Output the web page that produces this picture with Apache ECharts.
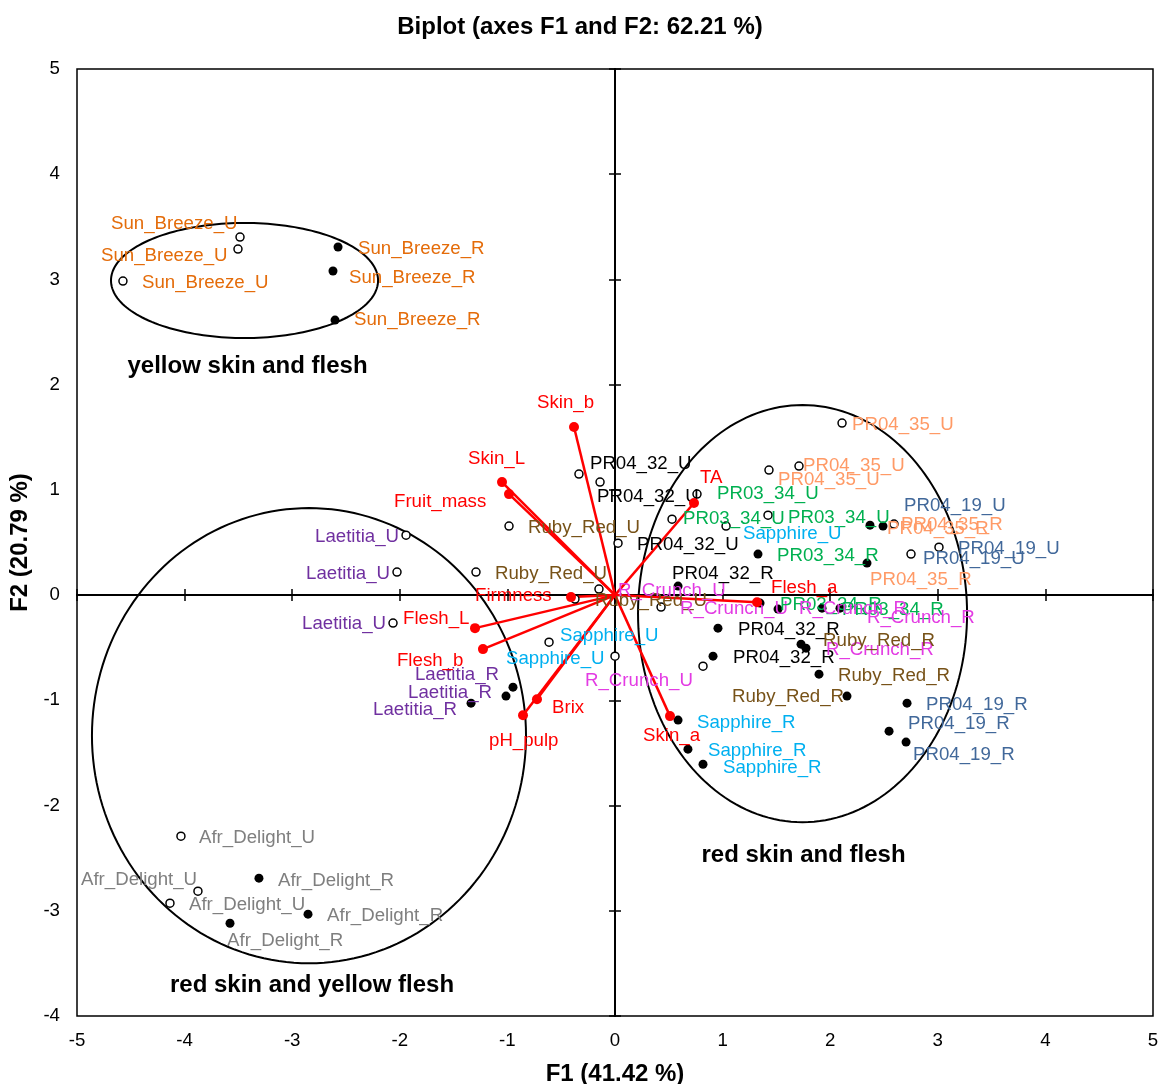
<!DOCTYPE html>
<html><head><meta charset="utf-8">
<script src="https://cdn.jsdelivr.net/npm/echarts@6/dist/echarts.min.js"></script>
<style>html,body{margin:0;padding:0;background:#fff}#chart{width:1160px;height:1084px}</style>
</head><body><div id="chart"></div>
<script>
// ---------------- DATA ----------------
const obsNames = [
  'Sun_Breeze_U','Sun_Breeze_U','Sun_Breeze_U','Sun_Breeze_R','Sun_Breeze_R','Sun_Breeze_R',
  'Laetitia_U','Laetitia_U','Laetitia_U','Laetitia_R','Laetitia_R','Laetitia_R',
  'Afr_Delight_U','Afr_Delight_U','Afr_Delight_U','Afr_Delight_R','Afr_Delight_R','Afr_Delight_R',
  'PR04_32_U','PR04_32_U','PR04_32_U','PR04_32_R','PR04_32_R','PR04_32_R',
  'PR04_35_U','PR04_35_U','PR04_35_U','PR04_35_R','PR04_35_R','PR04_35_R',
  'PR03_34_U','PR03_34_U','PR03_34_U','PR03_34_R','PR03_34_R','PR03_34_R',
  'R_Crunch_R','R_Crunch_R','R_Crunch_R','Ruby_Red_R','Ruby_Red_R','Ruby_Red_R',
  'PR04_19_U','PR04_19_U','PR04_19_U','PR04_19_R','PR04_19_R','PR04_19_R',
  'Ruby_Red_U','Ruby_Red_U','Ruby_Red_U','R_Crunch_U','R_Crunch_U','R_Crunch_U',
  'Sapphire_U','Sapphire_U','Sapphire_U','Sapphire_R','Sapphire_R','Sapphire_R'
];
const obsF1 = [
  -3.485,-3.504,-4.573,-2.574,-2.621,-2.602,
  -1.942,-2.026,-2.063,-0.948,-1.013,-1.338,
  -4.034,-3.876,-4.136,-3.309,-2.853,-3.578,
  -0.335,-0.139,0.028,0.586,0.957,0.911,
  2.110,1.710,1.431,2.370,2.491,2.342,
  0.762,0.530,1.422,1.329,1.348,1.924,
  1.515,1.775,2.091,1.729,1.896,2.156,
  2.593,3.011,2.751,2.714,2.547,2.705,
  -0.985,-1.292,-0.372,-0.149,0.428,0.818,
  -0.613,0.000,1.032,0.586,0.678,0.818
];
const obsF2 = [
  3.403,3.289,2.985,3.308,3.080,2.614,
  0.570,0.219,-0.266,-0.875,-0.960,-1.027,
  -2.291,-2.814,-2.928,-2.690,-3.032,-3.118,
  1.150,1.074,0.494,0.086,-0.314,-0.580,
  1.635,1.226,1.188,0.665,0.656,0.304,
  0.960,0.722,0.760,0.390,-0.076,-0.124,
  -0.133,-0.504,-0.124,-0.466,-0.751,-0.960,
  0.675,0.456,0.390,-1.027,-1.293,-1.397,
  0.656,0.219,-0.038,0.057,-0.114,-0.675,
  -0.447,-0.580,0.656,-1.188,-1.464,-1.607
];
const varNames = ['Skin_b','Skin_L','Fruit_mass','Firmness','Flesh_L','Flesh_b','Brix','pH_pulp','TA','Flesh_a','Skin_a'];
const varF1 = [-0.381,-1.050,-0.985,-0.409,-1.301,-1.227,-0.725,-0.855,0.734,1.320,0.511];
const varF2 = [1.597,1.074,0.960,-0.019,-0.314,-0.513,-0.989,-1.141,0.875,-0.067,-1.150];
const groupLabels = ['yellow skin and flesh','red skin and flesh','red skin and yellow flesh'];
const groupF1 = [-3.415, 1.752, -2.816];
const groupF2 = [2.177, -2.471, -3.707];
const ellipseCx = [-3.443, 1.743, -2.844];
const ellipseCy = [2.990, -0.176, -1.336];
const ellipseRx = [1.241, 1.529, 2.017];
const ellipseRy = [0.547, 1.982, 2.163];
const f1Range = [-5, 5];
const f2Range = [-4, 5];
const titleText = 'Biplot (axes F1 and F2: 62.21 %)';
const f1Name = 'F1 (41.42 %)';
const f2Name = 'F2 (20.79 %)';

// ---------------- LAYOUT / STYLE ----------------
const obsLabelOffsets = [
  [-129,-14],[-137,6],[19,1],[20,1],[16,6],[19,-1],
  [-91,1],[-91,1],[-91,0],[-98,-13],[-98,-4],[-98,6],
  [18,1],[-117,-12],[19,1],[19,2],[19,1],[-3,17],
  [11,-11],[-3,14],[19,1],[-6,-13],[20,1],[20,1],
  [10,1],[4,-1],[9,9],[17,3],[18,-2],[3,16],
  [20,-1],[11,-1],[20,2],[19,1],[20,1],[20,1],
  [21,-1],[20,1],[27,9],[22,-4],[19,1],[-115,0],
  [10,-19],[19,1],[12,4],[19,1],[19,-8],[7,12],
  [19,1],[19,1],[20,1],[19,1],[19,1],[-118,14],
  [11,-7],[-109,2],[17,7],[19,2],[20,1],[20,3]
];
const varLabelOffsets = [[-37,-25],[-34,-24],[-115,7],[-96,-2],[-72,-10],[-86,11],[15,8],[-34,25],[6,-26],[14,-15],[-27,19]];
const labelNudgeY = 1;
const varietyColors = {
  'Sun_Breeze':'#E46C0A','Laetitia':'#7030A0','Afr_Delight':'#7F7F7F','PR04_32':'#000000',
  'PR04_35':'#FF9A66','PR03_34':'#00B050','PR04_19':'#41689A','Ruby_Red':'#775218',
  'R_Crunch':'#E33BE3','Sapphire':'#00B0F0'
};
const FONT = '"Liberation Sans", Arial, Helvetica, sans-serif';
const FS = 18.67;

function colorFor(n){ return varietyColors[n.replace(/_[UR]$/,'')] || '#000'; }
function nudge(o){ return [o[0], o[1] + labelNudgeY]; }
function obsItems(suffix){
  const out = [];
  obsNames.forEach((n,i)=>{
    if (n.endsWith(suffix)) out.push({name:n, value:[obsF1[i], obsF2[i]], label:{offset:nudge(obsLabelOffsets[i]), color:colorFor(n)}});
  });
  return out;
}
const baseLabel = {show:true, formatter:'{b}', position:'inside', align:'left', verticalAlign:'middle',
  fontSize:FS, fontFamily:FONT, textBorderWidth:0, textShadowBlur:0};

const chart = echarts.init(document.getElementById('chart'), null, {renderer:'canvas'});
const axisCommonX = {type:'value', min:f1Range[0], max:f1Range[1], interval:1, splitLine:{show:false}};
const axisCommonY = {type:'value', min:f2Range[0], max:f2Range[1], interval:1, splitLine:{show:false}};
const option = {
  animation:false,
  backgroundColor:'#fff',
  title:{text:titleText, left:'center', top:10, textStyle:{fontSize:24, fontWeight:'bold', fontFamily:FONT, color:'#000'}},
  grid:{left:77, right:7, top:69, bottom:68, containLabel:false, outerBoundsMode:'none',
    show:true, borderColor:'#000', borderWidth:1.5, backgroundColor:'transparent'},
  xAxis:[
    Object.assign({}, axisCommonX, {position:'bottom', axisLine:{show:false, onZero:false}, axisTick:{show:false},
      axisLabel:{fontSize:FS, fontFamily:FONT, color:'#000', margin:15},
      name:f1Name, nameLocation:'middle', nameGap:46, nameTextStyle:{fontSize:24, fontWeight:'bold', fontFamily:FONT, color:'#000'}}),
    Object.assign({}, axisCommonX, {axisLine:{show:true, onZero:true, onZeroAxisIndex:0, lineStyle:{color:'#000', width:2}},
      axisTick:{show:true, inside:false, length:6, lineStyle:{color:'#000', width:1.5}}, axisLabel:{show:false}}),
    Object.assign({}, axisCommonX, {axisLine:{show:true, onZero:true, onZeroAxisIndex:0, lineStyle:{color:'#000', width:2}},
      axisTick:{show:true, inside:true, length:6, lineStyle:{color:'#000', width:1.5}}, axisLabel:{show:false}})
  ],
  yAxis:[
    Object.assign({}, axisCommonY, {position:'left', axisLine:{show:false, onZero:false}, axisTick:{show:false},
      axisLabel:{fontSize:FS, fontFamily:FONT, color:'#000', margin:17},
      name:f2Name, nameLocation:'middle', nameGap:37, nameTextStyle:{fontSize:24, fontWeight:'bold', fontFamily:FONT, color:'#000'}}),
    Object.assign({}, axisCommonY, {axisLine:{show:true, onZero:true, onZeroAxisIndex:0, lineStyle:{color:'#000', width:2}},
      axisTick:{show:true, inside:false, length:6, lineStyle:{color:'#000', width:1.5}}, axisLabel:{show:false}}),
    Object.assign({}, axisCommonY, {axisLine:{show:true, onZero:true, onZeroAxisIndex:0, lineStyle:{color:'#000', width:2}},
      axisTick:{show:true, inside:true, length:6, lineStyle:{color:'#000', width:1.5}}, axisLabel:{show:false}})
  ],
  series:[
    {type:'custom', name:'ellipses', silent:true, z:3,
      data: ellipseCx.map((c,i)=>[c, ellipseCy[i], ellipseRx[i], ellipseRy[i]]),
      encode:{x:0, y:1},
      renderItem:function(params, api){
        const c = api.coord([api.value(0), api.value(1)]);
        const s = api.size([api.value(2), api.value(3)]);
        const pts = [];
        for (let k=0;k<=180;k++){ const t = k/180*Math.PI*2; pts.push([c[0]+s[0]*Math.cos(t), c[1]-s[1]*Math.sin(t)]); }
        return {type:'polyline', shape:{points:pts}, style:{stroke:'#000', lineWidth:2, fill:null}};
      }
    },
    {type:'custom', name:'vectors', silent:true, z:4,
      data: varF1.map((x,i)=>[x, varF2[i]]),
      encode:{x:0, y:1},
      renderItem:function(params, api){
        const o = api.coord([0,0]);
        const p = api.coord([api.value(0), api.value(1)]);
        return {type:'line', shape:{x1:o[0], y1:o[1], x2:p[0], y2:p[1]}, style:{stroke:'#FF0000', lineWidth:2.5}};
      }
    },
    {type:'scatter', name:'U', z:5, symbol:'circle', symbolSize:8,
      itemStyle:{color:'#fff', borderColor:'#000', borderWidth:1.5, opacity:1},
      label:baseLabel, data:obsItems('_U')},
    {type:'scatter', name:'R', z:5, symbol:'circle', symbolSize:9,
      itemStyle:{color:'#000', opacity:1},
      label:baseLabel, data:obsItems('_R')},
    {type:'scatter', name:'variables', z:6, symbol:'circle', symbolSize:10,
      itemStyle:{color:'#FF0000', opacity:1},
      label:Object.assign({}, baseLabel, {color:'#FF0000'}),
      data: varNames.map((n,i)=>({name:n, value:[varF1[i], varF2[i]], label:{offset:nudge(varLabelOffsets[i])}}))},
    {type:'scatter', name:'groups', z:7, symbol:'circle', symbolSize:1, silent:true,
      itemStyle:{color:'rgba(0,0,0,0)', opacity:1},
      label:{show:true, formatter:'{b}', position:'inside', align:'center', verticalAlign:'middle',
        fontSize:24, fontWeight:'bold', fontFamily:FONT, color:'#000000', opacity:1, textBorderWidth:0},
      data: groupLabels.map((n,i)=>({name:n, value:[groupF1[i], groupF2[i]]}))}
  ]
};
chart.setOption(option);
</script></body></html>
